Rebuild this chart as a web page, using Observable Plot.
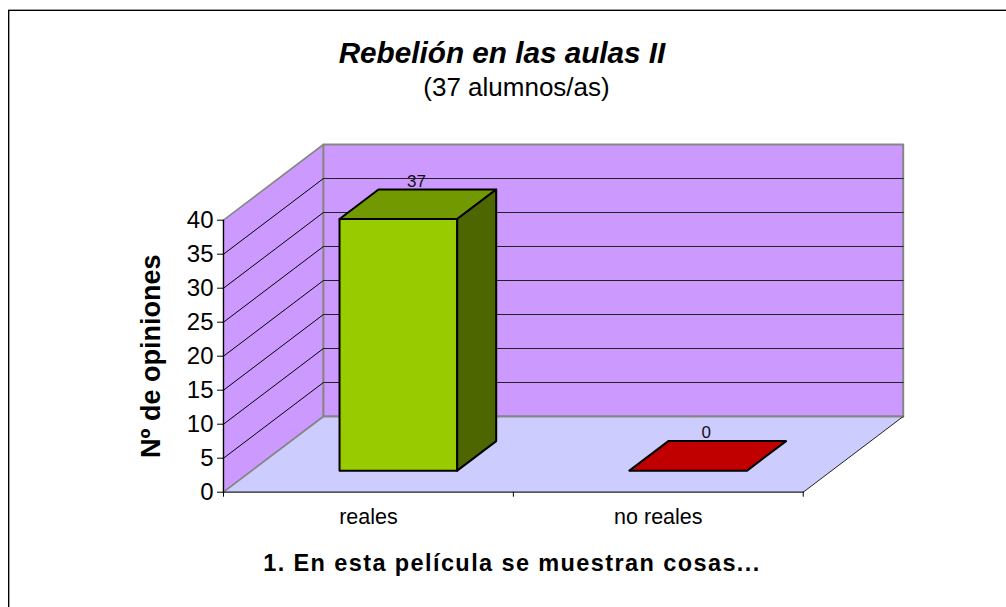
<!DOCTYPE html>
<html lang="es">
<head>
<meta charset="utf-8">
<script src="https://cdn.jsdelivr.net/npm/d3@7"></script>
<script src="https://cdn.jsdelivr.net/npm/@observablehq/plot@0.6"></script>
<style>
  html, body { margin: 0; padding: 0; background: #fff; overflow: hidden; }
  #page { position: relative; width: 1006px; height: 607px; font-family: "Liberation Sans", Arial, sans-serif; color: #000; }
  #head { position: relative; height: 130px; }
  .t { position: absolute; white-space: nowrap; transform: translateX(-50%); line-height: 1; }
  #title { left: 502px; top: 38px; font-size: 29.7px; font-weight: bold; font-style: italic; }
  #sub { left: 516.5px; top: 74px; font-size: 26px; }
  .edge { position: absolute; }
  svg { display: block; }
</style>
</head>
<body>
<div id="page">
  <div class="edge" style="left:8px;top:9px;right:0;height:1px;background:#a0a0a0"></div>
  <div class="edge" style="left:8px;top:10px;right:0;height:1px;background:#000"></div>
  <div class="edge" style="left:8px;top:10px;bottom:0;width:1px;background:#000"></div>
  <div class="edge" style="left:9px;top:11px;bottom:0;width:1px;background:#a0a0a0"></div>
  <div id="head">
    <div class="t" id="title"></div>
    <div class="t" id="sub"></div>
  </div>
  <div id="chart"></div>
</div>
<script>
const chartTitle = "Rebelión en las aulas II";
const chartSubtitle = "(37 alumnos/as)";
const categories = ["reales", "no reales"];
const values = [37, 0];
const barColors = ["#99CC00", "#C00000"];
const topColors = ["#739900", "#C00000"];
const sideColors = ["#4D6600", "#600000"];
const yTicks = [0, 5, 10, 15, 20, 25, 30, 35, 40];
const yTitle = "Nº de opiniones";
const xTitle = "1. En esta película se muestran cosas...";

document.getElementById("title").textContent = chartTitle;
document.getElementById("sub").textContent = chartSubtitle;

// Oblique projection: full depth of the box expressed in x-units and y-units
const skewX = 100 / 290;
const skewY = 75.7 / 6.8;
const yMax = 40;
const P = (x, v, d) => ({x: x + d * skewX, y: v + d * skewY});
const poly = (pts) => [...pts, pts[0]].map(([x, v, d]) => P(x, v, d));
const face = (pts, fill, stroke, strokeWidth) =>
  Plot.line(poly(pts), {x: "x", y: "y", fill, stroke, strokeWidth, curve: "linear", strokeLinejoin: "round"});

const nCat = categories.length;
const barL = 0.302, barR = 0.708, depthF = 0.285, depthB = 0.675, depthMid = 0.48;
const wallStroke = "#868686";
const seg = (a, b, stroke, strokeWidth) =>
  Plot.line([P(...a), P(...b)], {x: "x", y: "y", stroke, strokeWidth});

const marks = [
  // walls and floor
  face([[0, 0, 0], [0, yMax, 0], [0, yMax, 1], [0, 0, 1]], "#CC99FF", wallStroke, 1.6),
  face([[0, 0, 1], [0, yMax, 1], [nCat, yMax, 1], [nCat, 0, 1]], "#CC99FF", wallStroke, 2),
  face([[0, 0, 0], [nCat, 0, 0], [nCat, 0, 1], [0, 0, 1]], "#CCCCFF", "none", 0),
  // floor edges
  seg([0, 0, 0], [0, 0, 1], wallStroke, 1.6),
  seg([0, 0, 1], [nCat, 0, 1], wallStroke, 2),
  seg([nCat, 0, 0], [nCat, 0, 1], "#222", 1),
  // grid lines on both walls
  ...yTicks.filter((t) => t > 0 && t < yMax).flatMap((t) => [
    seg([0, t, 0], [0, t, 1], "#000", 1),
    seg([0, t, 1], [nCat, t, 1], "#222", 1)
  ]),
  // bars
  ...values.flatMap((v, i) => {
    const l = i + barL, r = i + barR;
    return v === 0
      ? [face([[l, 0, depthF], [r, 0, depthF], [r, 0, depthB], [l, 0, depthB]], barColors[i], "#000", 2)]
      : [
          face([[l, 0, depthF], [r, 0, depthF], [r, v, depthF], [l, v, depthF]], barColors[i], "#000", 2),
          face([[l, v, depthF], [r, v, depthF], [r, v, depthB], [l, v, depthB]], topColors[i], "#000", 2),
          face([[r, 0, depthF], [r, 0, depthB], [r, v, depthB], [r, v, depthF]], sideColors[i], "#000", 2)
        ];
  }),
  // value labels
  Plot.text(values.map((v, i) => ({...P(i + 0.5, v, depthMid), v})), {
    x: "x", y: "y", text: (d) => String(d.v), dy: -23, fontSize: 17, fill: "#111"
  }),
  // axes
  Plot.axisY({ticks: yTicks, tickSize: 6, tickPadding: 4, fontSize: 24, label: null, tickFormat: String, color: "#000"}),
  seg([0, 0, 0], [0, yMax, 0], "#000", 1.2),
  seg([0, 0, 0], [nCat, 0, 0], "#222", 1.2),
  Plot.axisX({ticks: d3.range(nCat + 1), tickSize: 5, tickFormat: () => "", label: null}),
  Plot.axisX({ticks: categories.map((_, i) => i + 0.5), tickSize: 0, tickPadding: 17, fontSize: 21.5, label: null,
    tickFormat: (d) => categories[Math.floor(d)]}),
  // axis titles
  Plot.text([yTitle], {frameAnchor: "left", textAnchor: "middle", dx: -72, rotate: -90, fontSize: 27, fontWeight: "bold", fill: "#000",
    y: () => 20}),
  Plot.text([xTitle], {x: () => nCat / 2 - 0.005, y: () => 0, dy: 71, fontSize: 23.5, fontWeight: "bold", fill: "#000"})
];

const plot = Plot.plot({
  width: 1006,
  height: 477,
  marginLeft: 223,
  marginRight: 1006 - 902.7,
  marginTop: 14,
  marginBottom: 115.3,
  style: {background: "transparent", fontFamily: "'Liberation Sans', Arial, sans-serif", color: "#000", overflow: "visible"},
  x: {domain: [0, nCat + skewX], axis: null},
  y: {domain: [0, yMax + skewY], axis: null},
  marks
});
for (const t of plot.querySelectorAll("text")) {
  if (t.textContent === xTitle) t.style.letterSpacing = "1.4px";
}
document.getElementById("chart").appendChild(plot);
</script>
</body>
</html>
